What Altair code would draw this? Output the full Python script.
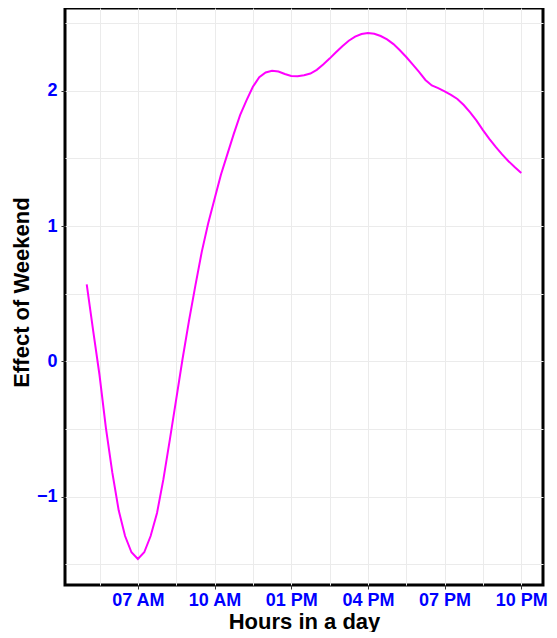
import altair as alt
import pandas as pd

# Hours of the day (decimal, quarter-hour steps) and estimated weekend effect
hours = [5.0, 5.25, 5.5, 5.75, 6.0, 6.25, 6.5, 6.75, 7.0, 7.25, 7.5, 7.75,
         8.0, 8.25, 8.5, 8.75, 9.0, 9.25, 9.5, 9.75, 10.0, 10.25, 10.5, 10.75,
         11.0, 11.25, 11.5, 11.75, 12.0, 12.25, 12.5, 12.75, 13.0, 13.25, 13.5,
         13.75, 14.0, 14.25, 14.5, 14.75, 15.0, 15.25, 15.5, 15.75, 16.0, 16.25,
         16.5, 16.75, 17.0, 17.25, 17.5, 17.75, 18.0, 18.25, 18.5, 18.75, 19.0,
         19.25, 19.5, 19.75, 20.0, 20.25, 20.5, 20.75, 21.0, 21.25, 21.5, 21.75,
         22.0]
effect = [0.57, 0.23, -0.10, -0.49, -0.82, -1.10, -1.29, -1.41, -1.46, -1.41,
          -1.29, -1.12, -0.87, -0.58, -0.28, 0.02, 0.30, 0.56, 0.81, 1.02, 1.20,
          1.38, 1.53, 1.68, 1.82, 1.93, 2.03, 2.10, 2.136, 2.148, 2.143, 2.124,
          2.110, 2.107, 2.115, 2.128, 2.155, 2.195, 2.238, 2.285, 2.33, 2.37,
          2.40, 2.42, 2.427, 2.422, 2.405, 2.38, 2.345, 2.30, 2.25, 2.195, 2.14,
          2.08, 2.04, 2.02, 1.996, 1.97, 1.94, 1.895, 1.84, 1.78, 1.71, 1.645,
          1.585, 1.53, 1.48, 1.435, 1.392]

tick_hours = [7, 10, 13, 16, 19, 22]
tick_labels = ["07 AM", "10 AM", "01 PM", "04 PM", "07 PM", "10 PM"]
x_grid = [5.5, 7, 8.5, 10, 11.5, 13, 14.5, 16, 17.5, 19, 20.5, 22]
y_grid = [-1.5, -1, -0.5, 0, 0.5, 1, 1.5, 2, 2.5]

df = pd.DataFrame({"hour": hours, "effect": effect})

label_expr = "".join(f"datum.value == {h} ? '{l}' : " for h, l in zip(tick_hours, tick_labels)) + "''"
major_x_test = " || ".join(f"datum.value == {h}" for h in tick_hours)

FONT = "Liberation Sans"

x_axis = alt.Axis(
    values=x_grid,
    labelExpr=label_expr,
    title="Hours in a day",
    domain=False,
    grid=True,
    gridColor="#EBEBEB",
    gridWidth=1,
    ticks=True,
    tickSize=4,
    tickWidth=1,
    tickColor="#333333",
    tickOpacity={"condition": {"test": major_x_test, "value": 1}, "value": 0},
    labelFont=FONT,
    labelFontSize=18,
    labelFontWeight="bold",
    labelColor="#0000FF",
    labelPadding=2,
    labelOverlap=False,
    labelFlush=False,
    titleFont=FONT,
    titleFontSize=22,
    titleFontWeight="bold",
    titleColor="black",
    titleBaseline="alphabetic",
    titleY=43,
)

y_axis = alt.Axis(
    values=y_grid,
    format="~g",
    labelExpr="datum.value % 1 === 0 ? datum.label : ''",
    title="Effect of Weekend",
    domain=False,
    grid=True,
    gridColor="#EBEBEB",
    gridWidth=1,
    ticks=True,
    tickSize=4,
    tickWidth=1,
    tickColor="#333333",
    tickOpacity={"condition": {"test": "datum.value % 1 === 0", "value": 1}, "value": 0},
    labelFont=FONT,
    labelFontSize=18,
    labelFontWeight="bold",
    labelColor="#0000FF",
    labelPadding=4,
    labelOverlap=False,
    labelFlush=False,
    titleFont=FONT,
    titleFontSize=22,
    titleFontWeight="bold",
    titleColor="black",
    titleBaseline="alphabetic",
    titleX=-37,
    titleY=284,
)

chart = (
    alt.Chart(df)
    .mark_line(color="#FF00FF", strokeWidth=2)
    .encode(
        x=alt.X("hour:Q", scale=alt.Scale(domain=[4.15, 22.85], nice=False, zero=False), axis=x_axis),
        y=alt.Y("effect:Q", scale=alt.Scale(domain=[-1.652, 2.612], nice=False, zero=False), axis=y_axis),
    )
    .properties(
        width=478,
        height=577,
        autosize=alt.AutoSizeParams(type="none"),
        padding={"left": 57, "top": 0, "right": 6, "bottom": 47},
        background="white",
    )
    .configure_view(stroke="black", strokeWidth=3)
)

chart.save("out.html", embed_options={"renderer": "svg", "actions": False})
